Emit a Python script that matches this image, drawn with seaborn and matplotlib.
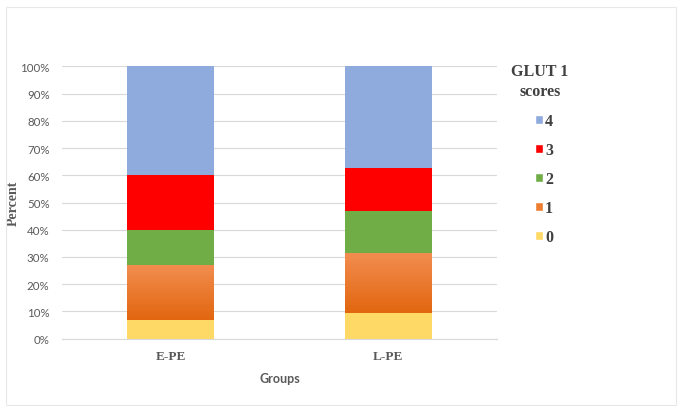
import numpy as np
import pandas as pd
import matplotlib
matplotlib.use("Agg")
import matplotlib.pyplot as plt
import seaborn as sns
from matplotlib.patches import Patch, Rectangle
from matplotlib.colors import LinearSegmentedColormap

# GLUT 1 score distribution (% of cases) per group
groups = ["E-PE", "L-PE"]
score0 = [6.7, 9.4]
score1 = [20.0, 21.9]
score2 = [13.3, 15.6]
score3 = [20.0, 15.6]
score4 = [40.0, 37.5]

score_names = ["0", "1", "2", "3", "4"]
colors = {"0": "#FFD966", "1": "#ED7D31", "2": "#70AD47", "3": "#FF0000", "4": "#8FAADC"}

df = pd.DataFrame({"Group": groups, "0": score0, "1": score1, "2": score2,
                   "3": score3, "4": score4})
cum = df[score_names].cumsum(axis=1)

sns.set_style("white")
serif = ["Liberation Serif", "DejaVu Serif"]
sans = ["Lato", "DejaVu Sans"]
grey = "#595959"
dark = "#404040"

fig = plt.figure(figsize=(6.78, 4.10), dpi=100)
ax = fig.add_axes([62 / 678, 1 - 339.7 / 410, (497 - 62) / 678, (339.7 - 67.3) / 410])

# stacked bars: draw cumulative totals from the top layer down
for s in reversed(score_names):
    sns.barplot(x=df["Group"], y=cum[s], color=colors[s], width=0.4,
                saturation=1, linewidth=0, ax=ax, zorder=2)

# gradient fill on the "1" segment
orange = LinearSegmentedColormap.from_list("org", ["#E2660F", "#F28D50"])
grad = np.linspace(0, 1, 256).reshape(-1, 1)
for i in range(len(groups)):
    lo = cum["0"].iloc[i]
    hi = cum["1"].iloc[i]
    ax.imshow(grad, extent=[i - 0.2, i + 0.2, lo, hi], origin="lower",
              cmap=orange, aspect="auto", zorder=2.5, interpolation="bilinear")

ax.set_xlim(-0.5, 1.5)
ax.set_ylim(0, 100)
ax.set_yticks(np.arange(0, 101, 10))
ax.set_yticklabels([f"{v}%" for v in range(0, 101, 10)], fontfamily=sans,
                   fontsize=8.3, color=grey)
ax.set_xticks(range(len(groups)))
ax.set_xticklabels(groups, fontfamily=serif, fontweight="bold", fontsize=9.5,
                   color=grey)
ax.tick_params(axis="both", length=0)
ax.tick_params(axis="y", pad=9)
ax.tick_params(axis="x", pad=8)
ax.grid(axis="y", color="#D9D9D9", linewidth=0.8, zorder=0)
ax.set_axisbelow(True)
for sp in ["top", "right", "left"]:
    ax.spines[sp].set_visible(False)
ax.spines["bottom"].set_color("#D9D9D9")

ax.set_xlabel("Groups", fontfamily=sans, fontweight="bold", fontsize=9,
              color=grey, labelpad=7)
ax.set_ylabel("Percent", fontfamily=serif, fontweight="bold", fontsize=10,
              color=grey, labelpad=0.5)

# legend
handles = [Patch(facecolor=colors[s], label=s) for s in reversed(score_names)]
leg = fig.legend(handles=handles, loc="upper left",
                 bbox_to_anchor=(527 / 678, 1 - 106 / 410), frameon=False,
                 borderpad=0, handlelength=0.5, handleheight=0.5,
                 handletextpad=0.12, labelspacing=0.81,
                 prop={"family": serif, "weight": "bold", "size": 11.5})
for t in leg.get_texts():
    t.set_color(dark)
fig.text(540 / 678, 1 - 72 / 410, "GLUT 1", ha="center", va="center",
         fontfamily=serif, fontweight="bold", fontsize=11.5, color=dark)
fig.text(540 / 678, 1 - 92 / 410, "scores", ha="center", va="center",
         fontfamily=serif, fontweight="bold", fontsize=11.5, color=dark)

# faint outer frame
fig.add_artist(Rectangle((6 / 678, 4 / 410), 670 / 678, 398 / 410,
                         transform=fig.transFigure, fill=False,
                         edgecolor="#E8E8E8", linewidth=0.8))

fig.savefig("out.png", dpi=100)
